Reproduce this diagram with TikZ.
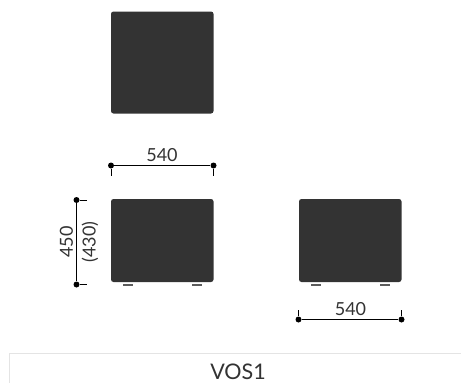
\documentclass[tikz,border=0pt]{standalone}
\usepackage{fontspec}
\setmainfont{Lato}
\usepackage{xcolor}
\definecolor{padgrey}{HTML}{333333}
\definecolor{framegrey}{HTML}{E4E4E4}
\begin{document}
\begin{tikzpicture}[x=1pt,y=-1pt,
pad/.style={draw=none,rounded corners=2.5pt,fill=padgrey,inner sep=0pt,minimum width=102.5pt},
foot/.style={draw=none,fill=padgrey!80,inner sep=0pt,minimum width=10pt,minimum height=2pt},
dot/.style={circle,fill=black,inner sep=0pt,minimum size=6pt},
dim/.style={text=padgrey,inner sep=0pt,font=\fontsize{18pt}{18pt}\selectfont}]
\useasboundingbox (0,0) rectangle (461,383);
\node (top) [pad,minimum height=102pt] at (162.25,62.5) {};
\node (front) [pad,minimum height=83pt] at (162.25,240.5) {};
\node (side) [pad,minimum height=83pt] at (350.25,240.5) {};
\node (foota) [foot] at (128,284.7) {};
\node (footb) [foot] at (197,284.7) {};
\node (footc) [foot] at (316,284.7) {};
\node (footd) [foot] at (385,284.7) {};
\node (widthl) [dot] at (111,165.5) {};
\node (widthr) [dot] at (213.5,165.5) {};
\node (heightt) [dot] at (76.5,200) {};
\node (heightb) [dot] at (76.5,284.5) {};
\node (sidel) [dot] at (298.5,319.5) {};
\node (sider) [dot] at (401.5,319.5) {};
\coordinate (widthlend) at (111,175.5);
\coordinate (widthrend) at (213.5,175.5);
\coordinate (heighttend) at (87,200);
\coordinate (heightbend) at (87,284.5);
\coordinate (sidelend) at (298.5,309.5);
\coordinate (siderend) at (401.5,309.5);
\draw[line width=1pt] (widthl) -- (widthr);
\draw[line width=1pt] (heightt) -- (heightb);
\draw[line width=1pt] (sidel) -- (sider);
\draw[line width=0.8pt] (widthl) -- (widthlend);
\draw[line width=0.8pt] (widthr) -- (widthrend);
\draw[line width=0.8pt] (heightt) -- (heighttend);
\draw[line width=0.8pt] (heightb) -- (heightbend);
\draw[line width=0.8pt] (sidel) -- (sidelend);
\draw[line width=0.8pt] (sider) -- (siderend);
\node (widthlabel) [dim] at (162,155) {540};
\node (heightlabel) [dim,rotate=90] at (66.5,242) {450};
\node (heightnote) [dim,rotate=90] at (90,242) {(430)};
\node (sidelabel) [dim] at (350.5,309) {540};
\coordinate (framea) at (9,383);
\coordinate (frameb) at (9,353.5);
\coordinate (framec) at (461,353.5);
\draw[framegrey,line width=1pt] (framea) -- (frameb) -- (framec);
\node (model) [text=padgrey,inner sep=0pt,font=\fontsize{21.5pt}{21.5pt}\selectfont] at (238,371.5) {VOS1};
\end{tikzpicture}
\end{document}
